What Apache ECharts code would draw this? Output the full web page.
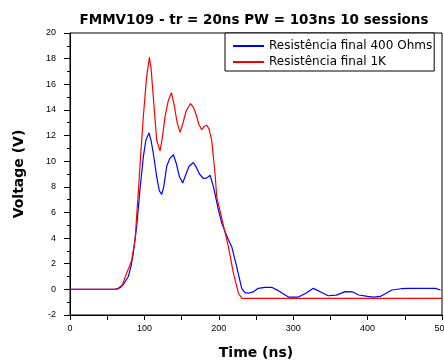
<!DOCTYPE html>
<html>
<head>
<meta charset="utf-8">
<script src="https://cdn.jsdelivr.net/npm/echarts@6/dist/echarts.min.js"></script>
<style>
html,body{margin:0;padding:0;background:#fff;}
#chart{width:444px;height:361px;}
</style>
</head>
<body>
<div id="chart"></div>
<script>
var titleText = 'FMMV109 - tr = 20ns PW = 103ns 10 sessions';
var seriesNames = ['Resistência final 400 Ohms', 'Resistência final 1K'];

var blueTime = [0, 60, 65, 72, 78.4, 82, 85, 89.6, 94, 98.6, 102, 106.2, 109, 112, 116.5, 120, 123.2, 126, 130, 134, 139, 143, 147, 151.5, 156, 160, 165.9, 170, 174, 179.3, 184, 188.3, 192.8, 199.5, 204, 213, 217.4, 224, 230.8, 235, 240, 246, 253, 262, 271, 280, 293.6, 307, 317, 327, 337, 347, 358, 370, 380, 388, 400, 408, 417, 425, 432.6, 445, 455, 470, 491, 498];
var blueVolt = [0, 0, 0.08, 0.4, 1.0, 1.8, 2.8, 4.9, 7.75, 10.35, 11.65, 12.2, 11.6, 10.6, 8.8, 7.7, 7.4, 8.0, 9.6, 10.2, 10.5, 9.8, 8.8, 8.3, 9.0, 9.6, 9.9, 9.5, 9.0, 8.65, 8.7, 8.9, 8.0, 6.2, 5.15, 3.85, 3.33, 1.77, 0.08, -0.25, -0.3, -0.2, 0.08, 0.16, 0.16, -0.1, -0.6, -0.6, -0.3, 0.08, -0.2, -0.5, -0.45, -0.18, -0.2, -0.44, -0.55, -0.6, -0.55, -0.3, -0.05, 0.05, 0.08, 0.08, 0.08, -0.05];

var redTime = [0, 60, 65, 69.5, 76, 80, 83, 87.4, 92, 95.5, 98.6, 103, 106.7, 109, 112, 116.5, 121, 124, 127.8, 132, 136.3, 140, 144, 148, 152, 156, 161.8, 166, 170.3, 173, 177, 180, 183.8, 187, 190.5, 195, 197.2, 203, 208.5, 213, 219.7, 226.4, 231, 235, 500];
var redVolt = [0, 0, 0.05, 0.2, 1.25, 1.8, 2.3, 3.85, 7.75, 10.9, 13.5, 16.6, 18.1, 17.2, 15, 11.65, 10.8, 11.8, 13.5, 14.7, 15.35, 14.4, 13, 12.25, 13, 13.9, 14.5, 14.2, 13.5, 12.9, 12.45, 12.7, 12.8, 12.5, 11.6, 9.0, 7.2, 5.8, 4.4, 3.3, 1.25, -0.3, -0.7, -0.7, -0.7];

var xTicks = {min: 0, max: 500, interval: 100};
var yTicks = {min: -2, max: 20, interval: 2};

function pairs(t, v) { return t.map(function (x, i) { return [x, v[i]]; }); }

var font = '"Liberation Sans", Arial, sans-serif';
var wfont = '"DejaVu Sans", sans-serif';
var chart = echarts.init(document.getElementById('chart'), null, {renderer: 'canvas'});
chart.setOption({
  animation: false,
  backgroundColor: '#fff',
  title: {
    text: titleText, left: 249, textAlign: 'center', top: 8,
    textStyle: {fontFamily: wfont, fontSize: 13.5, fontWeight: 'bold', color: '#000'}
  },
  legend: {
    orient: 'vertical', left: 225, top: 33,
    padding: [6, 2, 2, 8], itemGap: 2, itemWidth: 31, itemHeight: 2, icon: 'rect',
    borderColor: '#000', borderWidth: 1, backgroundColor: '#fff',
    textStyle: {fontFamily: wfont, fontSize: 12, color: '#000', lineHeight: 14, padding: [0, 0, 0, 0]},
    data: seriesNames
  },
  grid: {left: 70, right: 2, top: 33, bottom: 46, show: true, borderColor: '#000', borderWidth: 1,
         backgroundColor: 'transparent', outerBoundsMode: 'none', containLabel: false},
  xAxis: {
    type: 'value', min: xTicks.min, max: xTicks.max, interval: xTicks.interval,
    name: 'Time (ns)', nameLocation: 'middle', nameGap: 31,
    nameTextStyle: {fontFamily: wfont, fontSize: 14, fontWeight: 'bold', color: '#000'},
    axisLine: {show: true, onZero: false, lineStyle: {color: '#000', width: 1}},
    axisTick: {show: true, inside: false, length: 5, lineStyle: {color: '#000', width: 1}},
    minorTick: {show: true, splitNumber: 2, length: 5, lineStyle: {color: '#000', width: 1}},
    splitLine: {show: false},
    axisLabel: {fontFamily: font, fontSize: 9, color: '#000', margin: 9}
  },
  yAxis: {
    type: 'value', min: yTicks.min, max: yTicks.max, interval: yTicks.interval,
    name: 'Voltage (V)', nameLocation: 'middle', nameGap: 44,
    nameTextStyle: {fontFamily: wfont, fontSize: 14, fontWeight: 'bold', color: '#000'},
    axisLine: {show: true, onZero: false, lineStyle: {color: '#000', width: 1}},
    axisTick: {show: true, inside: false, length: 6, lineStyle: {color: '#000', width: 1}},
    minorTick: {show: true, splitNumber: 2, length: 3, lineStyle: {color: '#000', width: 1}},
    splitLine: {show: false},
    axisLabel: {fontFamily: font, fontSize: 9, color: '#000', margin: 14}
  },
  series: [
    {name: seriesNames[0], type: 'line', data: pairs(blueTime, blueVolt), showSymbol: false, symbol: 'none',
     lineStyle: {color: '#0000ff', width: 1.2}, itemStyle: {color: '#0000ff'}, z: 2},
    {name: seriesNames[1], type: 'line', data: pairs(redTime, redVolt), showSymbol: false, symbol: 'none',
     lineStyle: {color: '#ff0000', width: 1.2}, itemStyle: {color: '#ff0000'}, z: 3}
  ]
});
</script>
</body>
</html>
